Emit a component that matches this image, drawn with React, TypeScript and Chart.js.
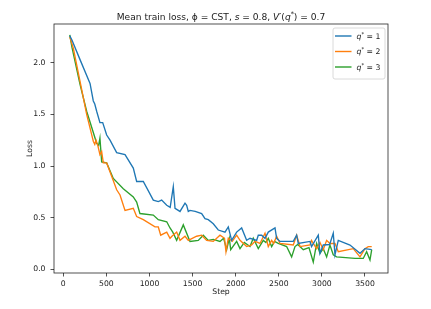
import React, { useEffect, useRef } from "react";
import { Chart, registerables } from "chart.js";

Chart.register(...registerables);

const qValues = [1, 2, 3];
const seriesColors = ["#1f77b4", "#ff7f0e", "#2ca02c"];

const stepsQ1 = [75, 100, 194, 310, 348, 365, 387, 425, 457, 503, 542, 619, 716, 812, 851, 928, 1044, 1102, 1141, 1200, 1240, 1276, 1296, 1354, 1412, 1431, 1450, 1470, 1530, 1605, 1644, 1682, 1740, 1798, 1876, 1914, 1953, 2011, 2069, 2127, 2166, 2243, 2262, 2301, 2340, 2378, 2456, 2475, 2514, 2668, 2707, 2726, 2862, 2880, 2958, 2978, 3016, 3090, 3132, 3152, 3190, 3326, 3442, 3500, 3578];
const lossQ1 = [2.26, 2.22, 2.03, 1.80, 1.63, 1.60, 1.53, 1.42, 1.42, 1.30, 1.25, 1.13, 1.11, 0.98, 0.85, 0.85, 0.67, 0.655, 0.67, 0.62, 0.60, 0.80, 0.59, 0.56, 0.64, 0.62, 0.56, 0.57, 0.56, 0.54, 0.49, 0.48, 0.44, 0.38, 0.36, 0.41, 0.28, 0.36, 0.40, 0.28, 0.30, 0.28, 0.33, 0.33, 0.30, 0.36, 0.40, 0.30, 0.27, 0.27, 0.33, 0.25, 0.27, 0.22, 0.33, 0.155, 0.235, 0.24, 0.35, 0.14, 0.28, 0.235, 0.155, 0.20, 0.19];

const stepsQ2 = [75, 116, 194, 271, 348, 365, 379, 400, 425, 445, 464, 503, 561, 619, 658, 716, 812, 851, 928, 1064, 1102, 1130, 1200, 1238, 1260, 1315, 1354, 1412, 1450, 1547, 1605, 1663, 1740, 1818, 1870, 1887, 1914, 1960, 2011, 2050, 2127, 2185, 2224, 2282, 2340, 2378, 2417, 2440, 2475, 2514, 2668, 2707, 2746, 2862, 2880, 2900, 2939, 2978, 3016, 3055, 3093, 3152, 3190, 3364, 3442, 3500, 3538, 3578];
const lossQ2 = [2.25, 2.14, 1.82, 1.50, 1.24, 1.21, 1.25, 1.20, 1.11, 1.14, 1.03, 1.03, 0.90, 0.77, 0.72, 0.57, 0.59, 0.51, 0.48, 0.41, 0.41, 0.33, 0.36, 0.30, 0.32, 0.36, 0.28, 0.32, 0.28, 0.32, 0.33, 0.28, 0.27, 0.33, 0.30, 0.17, 0.30, 0.27, 0.33, 0.28, 0.22, 0.235, 0.27, 0.25, 0.35, 0.22, 0.28, 0.25, 0.32, 0.25, 0.235, 0.33, 0.22, 0.235, 0.28, 0.25, 0.20, 0.26, 0.19, 0.28, 0.25, 0.25, 0.17, 0.20, 0.12, 0.20, 0.22, 0.22];

const stepsQ3 = [75, 100, 194, 271, 387, 410, 425, 445, 503, 580, 696, 812, 851, 889, 1044, 1102, 1200, 1238, 1270, 1315, 1392, 1470, 1566, 1624, 1682, 1740, 1818, 1860, 1895, 1926, 1942, 2011, 2050, 2100, 2166, 2204, 2262, 2320, 2350, 2378, 2417, 2450, 2494, 2591, 2649, 2688, 2720, 2784, 2850, 2900, 2939, 2978, 3016, 3055, 3093, 3132, 3170, 3384, 3480, 3519, 3558, 3578];
const lossQ3 = [2.27, 2.15, 1.79, 1.53, 1.22, 1.20, 1.27, 1.04, 1.03, 0.88, 0.78, 0.70, 0.65, 0.54, 0.525, 0.48, 0.46, 0.40, 0.36, 0.28, 0.43, 0.27, 0.28, 0.33, 0.28, 0.29, 0.27, 0.30, 0.19, 0.30, 0.19, 0.27, 0.20, 0.26, 0.22, 0.30, 0.20, 0.28, 0.26, 0.30, 0.22, 0.27, 0.25, 0.22, 0.12, 0.22, 0.24, 0.19, 0.21, 0.07, 0.25, 0.155, 0.20, 0.12, 0.235, 0.14, 0.12, 0.105, 0.105, 0.17, 0.09, 0.19];

const xTickValues = [0, 500, 1000, 1500, 2000, 2500, 3000, 3500];
const yTickValues = [0, 0.5, 1.0, 1.5, 2.0];

const allSteps = [stepsQ1, stepsQ2, stepsQ3];
const allLoss = [lossQ1, lossQ2, lossQ3];

const FONT = "'DejaVu Sans', sans-serif";
const TEXT = "#1a1a1a";
const SMALL = 7.7;
const TITLE_SIZE = 9.1;

type Seg = { t: string; italic?: boolean; sup?: boolean };

function drawRich(ctx: CanvasRenderingContext2D, segs: Seg[], x: number, y: number, size: number, align: "left" | "center") {
  const fontFor = (s: Seg) => `${s.italic ? "italic " : ""}${s.sup ? size * 0.7 : size}px ${FONT}`;
  let total = 0;
  for (const s of segs) {
    ctx.font = fontFor(s);
    total += ctx.measureText(s.t).width;
  }
  let cx = align === "center" ? x - total / 2 : x;
  ctx.textBaseline = "alphabetic";
  ctx.textAlign = "left";
  for (const s of segs) {
    ctx.font = fontFor(s);
    ctx.fillText(s.t, cx, s.sup ? y - size * 0.42 : y);
    cx += ctx.measureText(s.t).width;
  }
}

const titleSegs: Seg[] = [
  { t: "Mean train loss, " },
  { t: "ϕ" },
  { t: " = CST, " },
  { t: "s", italic: true },
  { t: " = 0.8, " },
  { t: "V", italic: true },
  { t: "′(" },
  { t: "q", italic: true },
  { t: "*", sup: true },
  { t: ") = 0.7" },
];

const framePlugin = {
  id: "mplFrame",
  afterDatasetsDraw(chart: any) {
    const { ctx, chartArea } = chart;
    ctx.save();
    ctx.strokeStyle = "rgba(0,0,0,0.85)";
    ctx.lineWidth = 0.8;
    ctx.strokeRect(chartArea.left, chartArea.top, chartArea.right - chartArea.left, chartArea.bottom - chartArea.top);
    ctx.restore();
  },
};

const titlePlugin = {
  id: "mplTitle",
  afterDraw(chart: any) {
    const { ctx, chartArea } = chart;
    ctx.save();
    ctx.fillStyle = TEXT;
    drawRich(ctx, titleSegs, (chartArea.left + chartArea.right) / 2, 19.6, TITLE_SIZE, "center");
    ctx.restore();
  },
};

const legendPlugin = {
  id: "mplLegend",
  afterDraw(chart: any) {
    const { ctx, chartArea } = chart;
    const w = 52;
    const h = 51;
    const x0 = chartArea.right - w - 3;
    const y0 = chartArea.top + 4;
    ctx.save();
    ctx.beginPath();
    ctx.roundRect(x0, y0, w, h, 2);
    ctx.fillStyle = "rgba(255,255,255,0.8)";
    ctx.fill();
    ctx.strokeStyle = "#d0d0d0";
    ctx.lineWidth = 0.8;
    ctx.stroke();
    chart.data.datasets.forEach((ds: any, i: number) => {
      const yy = y0 + 8 + i * 15.5;
      ctx.beginPath();
      ctx.strokeStyle = ds.borderColor;
      ctx.lineWidth = 1.4;
      ctx.moveTo(x0 + 2, yy);
      ctx.lineTo(x0 + 18.5, yy);
      ctx.stroke();
      ctx.fillStyle = TEXT;
      drawRich(ctx, [{ t: "q", italic: true }, { t: "*", sup: true }, { t: " = " + qValues[i] }], x0 + 23.5, yy + 2.8, SMALL, "left");
    });
    ctx.restore();
  },
};

export default function App() {
  const ref = useRef<HTMLCanvasElement | null>(null);
  useEffect(() => {
    if (!ref.current) return;
    const datasets = qValues.map((q, i) => ({
      label: `q* = ${q}`,
      data: allSteps[i].map((s, j) => ({ x: s, y: allLoss[i][j] })),
      borderColor: seriesColors[i],
      backgroundColor: seriesColors[i],
      borderWidth: 1.35,
      pointRadius: 0,
      tension: 0,
      fill: false,
    }));
    const tickFont = { family: FONT, size: SMALL };
    const chart = new Chart(ref.current, {
      type: "line",
      data: { datasets },
      plugins: [framePlugin, titlePlugin, legendPlugin],
      options: {
        animation: false,
        responsive: false,
        devicePixelRatio: 1,
        layout: { padding: { left: 0, right: 43, top: 24, bottom: 0 } },
        plugins: { legend: { display: false }, title: { display: false }, tooltip: { enabled: false } },
        scales: {
          x: {
            type: "linear",
            min: -108,
            max: 3767,
            afterBuildTicks: (scale: any) => {
              scale.ticks = xTickValues.map((v) => ({ value: v }));
            },
            afterFit: (scale: any) => {
              scale.height = 36;
            },
            ticks: { color: TEXT, font: tickFont, padding: 2.5, maxRotation: 0, autoSkip: false, callback: (v: any) => String(v) },
            grid: { drawOnChartArea: false, drawTicks: true, tickLength: 3.5, color: "rgba(0,0,0,0.85)", tickWidth: 0.8 },
            border: { display: false },
            title: { display: true, text: "Step", color: TEXT, font: tickFont, padding: { top: 0, bottom: 12 } },
          },
          y: {
            type: "linear",
            min: -0.036,
            max: 2.375,
            afterBuildTicks: (scale: any) => {
              scale.ticks = yTickValues.map((v) => ({ value: v }));
            },
            afterFit: (scale: any) => {
              scale.width = 54;
            },
            ticks: { color: TEXT, font: tickFont, padding: 5, autoSkip: false, callback: (v: any) => Number(v).toFixed(1) },
            grid: { drawOnChartArea: false, drawTicks: true, tickLength: 3.5, color: "rgba(0,0,0,0.85)", tickWidth: 0.8 },
            border: { display: false },
            title: { display: true, text: "Loss", color: TEXT, font: tickFont, padding: { top: 25, bottom: 0 } },
          },
        },
      } as any,
    });
    return () => chart.destroy();
  }, []);
  return (
    <div style={{ position: "fixed", left: 0, top: 0, width: 431, height: 309, background: "#fff" }}>
      <canvas ref={ref} width={431} height={309} style={{ width: 431, height: 309, display: "block" }} />
    </div>
  );
}
